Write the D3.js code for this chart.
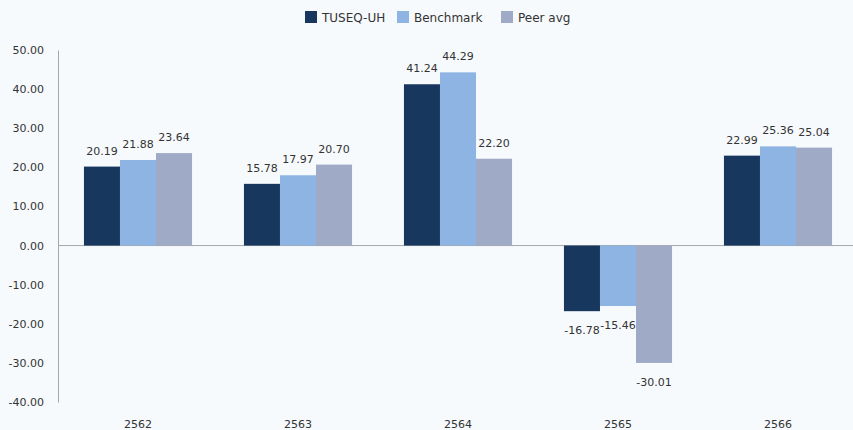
<!DOCTYPE html>
<html>
<head>
<meta charset="utf-8">
<script src="https://cdn.jsdelivr.net/npm/d3@7"></script>
<style>
  body { margin: 0; background: #f7fafd; }
  text { font-family: "DejaVu Sans", sans-serif; fill: #333; }
</style>
</head>
<body>
<div id="chart"></div>
<script>
var years = ["2562", "2563", "2564", "2565", "2566"];
var seriesNames = ["TUSEQ-UH", "Benchmark", "Peer avg"];
var fund = [20.19, 15.78, 41.24, -16.78, 22.99];
var benchmark = [21.88, 17.97, 44.29, -15.46, 25.36];
var peer = [23.64, 20.70, 22.20, -30.01, 25.04];
var yTicks = [50, 40, 30, 20, 10, 0, -10, -20, -30, -40];
var colors = ["#17375e", "#8db4e3", "#9eaac6"];

var width = 853, height = 430;
var margin = {top: 50, right: -5, bottom: 28, left: 58};

var svg = d3.select("#chart").append("svg")
	.attr("width", width)
	.attr("height", height);

var fmt = (d) => { return d3.format(".2f")(d).replace("\u2212", "-"); };

var rows = years.map((y, i) => {
	return {year: y, values: [fund[i], benchmark[i], peer[i]]};
});

var x = d3.scaleBand()
	.domain(years)
	.range([margin.left, width - margin.right])
	.paddingInner(0)
	.paddingOuter(0);
var x1 = d3.scaleBand()
	.domain(d3.range(3))
	.range([0, x.bandwidth()])
	.paddingOuter(0.72)
	.paddingInner(0);
var y = d3.scaleLinear()
	.domain([-40, 50])
	.range([height - margin.bottom, margin.top]);

// y axis labels
var yAxis = d3.axisLeft(y).tickValues(yTicks).tickSize(0).tickPadding(14)
	.tickFormat(fmt);
svg.append("g")
	.attr("class", "left axis")
	.attr("transform", "translate(" + margin.left + ",0)")
	.call(yAxis)
	.call((g) => g.select(".domain").attr("stroke", "#a6a6a6"))
	.selectAll("text")
	.style("font-family", "DejaVu Sans")
	.style("font-size", "11px")
	.attr("fill", "#333");

// zero line
svg.append("line")
	.attr("x1", margin.left).attr("x2", width)
	.attr("y1", y(0)).attr("y2", y(0))
	.attr("stroke", "#a6a6a6");

var groups = svg.selectAll("g.grp")
	.data(rows)
	.enter()
	.append("g")
	.attr("class", "grp")
	.attr("transform", (d) => { return "translate(" + x(d.year) + ",0)"; });

groups.selectAll("rect")
	.data((d) => { return d.values; })
	.enter()
	.append("rect")
	.attr("x", (d, i) => { return x1(i); })
	.attr("width", x1.bandwidth())
	.attr("y", (d) => { return y(Math.max(0, d)); })
	.attr("height", (d) => { return Math.abs(y(d) - y(0)); })
	.attr("fill", (d, i) => { return colors[i]; });

groups.selectAll("text.val")
	.data((d) => { return d.values; })
	.enter()
	.append("text")
	.attr("class", "val")
	.attr("text-anchor", "middle")
	.attr("x", (d, i) => { return x1(i) + x1.bandwidth() / 2; })
	.attr("y", (d) => { return d >= 0 ? y(d) - 12 : y(d) + 23; })
	.style("font-size", "11px")
	.text(fmt);

// category labels
svg.selectAll("text.cat")
	.data(years)
	.enter()
	.append("text")
	.attr("class", "cat")
	.attr("text-anchor", "middle")
	.attr("x", (d) => { return x(d) + x.bandwidth() / 2; })
	.attr("y", 428)
	.style("font-size", "11px")
	.text((d) => { return d; });

// legend
var legendX = [305, 397, 501];
var legend = svg.selectAll("g.leg")
	.data(seriesNames)
	.enter()
	.append("g")
	.attr("class", "leg")
	.attr("transform", (d, i) => { return "translate(" + legendX[i] + ",11)"; });
legend.append("rect")
	.attr("width", 12).attr("height", 12)
	.attr("fill", (d, i) => { return colors[i]; });
legend.append("text")
	.attr("x", 17).attr("y", 10.5)
	.style("font-size", "12px")
	.text((d) => { return d; });
</script>
</body>
</html>
